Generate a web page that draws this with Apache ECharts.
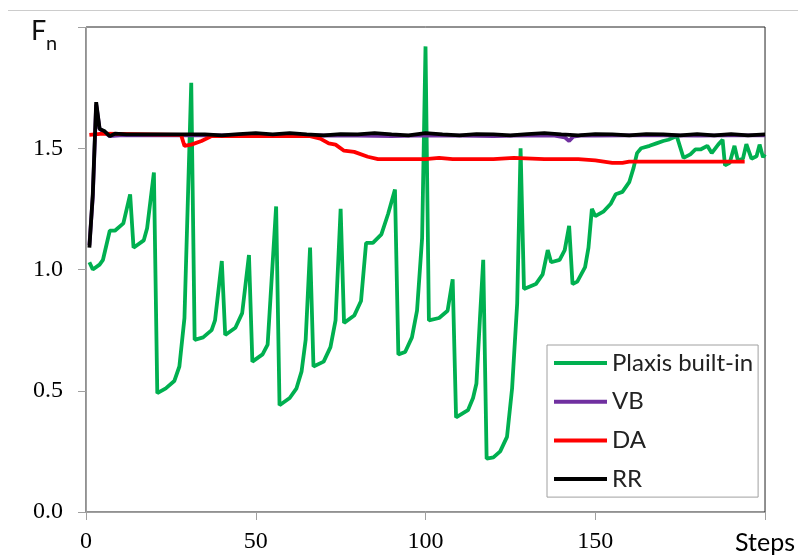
<!DOCTYPE html>
<html>
<head>
<meta charset="utf-8">
<script src="https://cdn.jsdelivr.net/npm/echarts@6/dist/echarts.min.js"></script>
<style>html,body{margin:0;padding:0;background:#fff;}#c{width:798px;height:556px;}</style>
</head>
<body>
<div id="c"></div>
<script>
// ---- data ----
var seriesNames = ['Plaxis built-in', 'VB', 'DA', 'RR'];
var xTicks = [0, 50, 100, 150, 200];
var yTicks = [0, 0.5, 1.0, 1.5, 2.0];

var plaxisSteps = [1,2,4,5,7,8.5,11,13,14,17,18,20,21,23.5,26,27.5,29,31,32,34.5,37,38,40,41,44,46,48,49,52,53.5,56,57,60,62,63.5,64.7,66,67,70,72,73.5,75,76,79,81,82.5,84.5,87,89,91,92,94,96,97.5,99,100,101,104,106.5,108,109,112.5,114,115,116,117,118,120,122,124,125.5,127,128,129,132.5,134.5,136,137,139.5,141,142.3,143.3,144.7,147,148,149,150,152.5,154.5,156,158,160,161.3,162.3,163.5,166,168,170,171.5,174,176,178,179.5,181,183,184.3,186.2,187.5,188.2,189.6,191,192,193.5,194.5,196,197.5,198.4,199.4,200];
var plaxisValues = [1.03,1.00,1.02,1.04,1.16,1.16,1.19,1.31,1.09,1.12,1.17,1.40,0.49,0.51,0.54,0.60,0.80,1.77,0.71,0.72,0.75,0.79,1.035,0.73,0.76,0.82,1.06,0.62,0.65,0.69,1.26,0.44,0.47,0.51,0.58,0.71,1.09,0.60,0.62,0.68,0.79,1.25,0.78,0.81,0.87,1.11,1.11,1.145,1.23,1.33,0.65,0.66,0.72,0.83,1.13,1.92,0.79,0.80,0.83,0.96,0.39,0.42,0.47,0.53,0.79,1.04,0.22,0.225,0.25,0.31,0.51,0.86,1.50,0.92,0.94,0.98,1.08,1.03,1.04,1.08,1.18,0.94,0.95,1.01,1.09,1.25,1.22,1.24,1.27,1.31,1.32,1.36,1.42,1.48,1.50,1.51,1.52,1.53,1.535,1.55,1.46,1.475,1.495,1.495,1.51,1.48,1.515,1.535,1.43,1.44,1.51,1.45,1.457,1.517,1.457,1.467,1.515,1.463,1.475];

var vbSteps = [1,2,3,4,5.5,7,10,20,30,40,50,60,70,80,90,100,110,120,130,138,141,142.3,143.5,146,150,160,170,180,190,200];
var vbValues = [1.10,1.30,1.68,1.58,1.565,1.55,1.553,1.553,1.553,1.553,1.556,1.552,1.553,1.552,1.55,1.553,1.552,1.55,1.553,1.552,1.545,1.53,1.548,1.553,1.552,1.553,1.553,1.552,1.553,1.553];

var daSteps = [1,5,28,29,31,34,37,50,66,69,71.5,73.5,76,79,83,86,100,104,108,120,126,135,145,150,155,158,160,194];
var daValues = [1.555,1.56,1.555,1.51,1.515,1.53,1.55,1.55,1.55,1.54,1.52,1.515,1.49,1.485,1.465,1.455,1.455,1.46,1.455,1.455,1.46,1.455,1.455,1.45,1.44,1.44,1.445,1.445];

var rrSteps = [1,2,3,4,5.5,7,8.5,12,16,20,25,30,35,40,45,50,55,60,65,70,75,80,85,90,95,100,105,110,115,120,125,130,135,140,145,150,155,160,165,170,175,180,185,190,195,200];
var rrValues = [1.09,1.31,1.69,1.58,1.57,1.55,1.56,1.557,1.557,1.557,1.557,1.557,1.557,1.553,1.558,1.562,1.557,1.562,1.557,1.553,1.558,1.557,1.562,1.557,1.553,1.562,1.557,1.553,1.558,1.557,1.553,1.558,1.562,1.557,1.553,1.558,1.557,1.553,1.558,1.557,1.553,1.558,1.553,1.558,1.553,1.557];

function pairs(xs, ys) { return xs.map(function (x, i) { return [x, ys[i]]; }); }

var colors = ['#00B050', '#7030A0', '#FF0000', '#000000'];
var sData = [pairs(plaxisSteps, plaxisValues), pairs(vbSteps, vbValues), pairs(daSteps, daValues), pairs(rrSteps, rrValues)];

var chart = echarts.init(document.getElementById('c'), null, {renderer: 'canvas'});
var option = {
  animation: false,
  backgroundColor: '#fff',
  grid: {left: 86, right: 29, top: 27, bottom: 44, show: true, borderColor: '#222', borderWidth: 1, backgroundColor: 'transparent'},
  xAxis: {
    type: 'value', min: xTicks[0], max: xTicks[xTicks.length - 1], interval: 50,
    axisLine: {show: true, lineStyle: {color: '#a0a0a0', width: 1}},
    axisTick: {show: true, length: 8, lineStyle: {color: '#a0a0a0'}},
    splitLine: {show: false},
    axisLabel: {
      margin: 18, color: '#000', fontFamily: 'Liberation Serif', fontSize: 24,
      formatter: function (v) { return v === 200 ? '{s|Steps}' : String(v); },
      rich: {s: {fontFamily: 'Lato', fontSize: 25, color: '#000', padding: [0, 0, 10, 0]}}
    }
  },
  yAxis: {
    type: 'value', min: yTicks[0], max: yTicks[yTicks.length - 1], interval: 0.5,
    axisLine: {show: true, lineStyle: {color: '#a0a0a0', width: 1}},
    axisTick: {show: true, length: 8, lineStyle: {color: '#a0a0a0'}},
    splitLine: {show: false},
    axisLabel: {
      margin: 23, color: '#000', fontFamily: 'Liberation Serif', fontSize: 24,
      formatter: function (v) { return v === 2 ? '' : v.toFixed(1); }
    }
  },
  legend: {
    orient: 'vertical', left: 547, top: 345,
    padding: [6, 5, 6, 7], itemGap: 14.7, itemWidth: 53, itemHeight: 4,
    icon: 'rect',
    borderColor: '#a0a0a0', borderWidth: 1, backgroundColor: '#fff',
    textStyle: {fontFamily: 'Lato', fontSize: 24, lineHeight: 24, color: '#222'},
    data: seriesNames
  },
  graphic: [
    {type: 'line', shape: {x1: 8, y1: 10.5, x2: 798, y2: 10.5}, style: {stroke: '#cccccc', lineWidth: 1}, silent: true},
    {type: 'text', left: 31, top: 18, style: {text: 'F', font: '27px Lato', fill: '#111'}},
    {type: 'text', left: 46, top: 34, style: {text: 'n', font: '20px Lato', fill: '#111'}}
  ],
  series: seriesNames.map(function (name, i) {
    return {
      name: name, type: 'line', data: sData[i], symbol: 'none', showSymbol: false,
      lineStyle: {color: colors[i], width: 3.8}, itemStyle: {color: colors[i]}, z: 2 + i
    };
  })
};
chart.setOption(option);
</script>
</body>
</html>
